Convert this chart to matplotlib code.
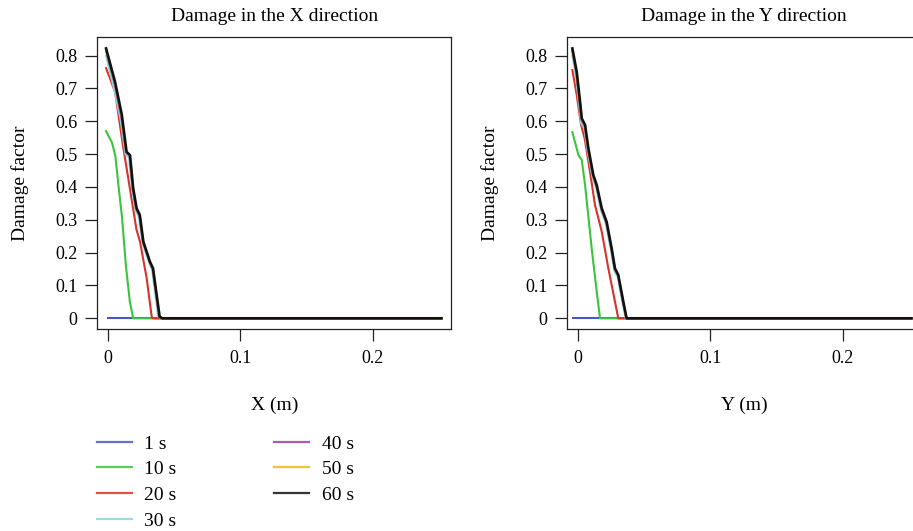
import matplotlib
matplotlib.use('Agg')
import matplotlib.pyplot as plt
from matplotlib.lines import Line2D

plt.rcParams['font.family'] = ['Liberation Serif', 'DejaVu Serif']
plt.rcParams['font.size'] = 14

labels = ['1 s', '10 s', '20 s', '30 s', '40 s', '50 s', '60 s']
colors = ['#4a56c6', '#3cc43c', '#d8322a', '#86d8e2', '#a43ca4', '#f2b81c', '#111111']
x_end = 0.252

# damage along X
x_dir_x = {
    '1 s': [0.0, x_end],
    '10 s': [-0.0015, 0.003, 0.0055, 0.008, 0.0105, 0.0135, 0.0165, 0.019, x_end],
    '20 s': [-0.0015, 0.0053, 0.0116, 0.0177, 0.0215, 0.0242, 0.0292, 0.033, 0.034, x_end],
    '30 s': [-0.0015, 0.0045, 0.0095, 0.0132, 0.0158, 0.0182, 0.0208, 0.0232, 0.026, 0.031, 0.0332, 0.038, 0.0405, x_end],
    '40 s': [-0.0015, 0.005, 0.01, 0.0137, 0.0163, 0.0187, 0.0213, 0.0237, 0.0265, 0.0315, 0.0337, 0.0386, 0.041, x_end],
    '50 s': [-0.0015, 0.0052, 0.0102, 0.0139, 0.0165, 0.0189, 0.0215, 0.0239, 0.0266, 0.0316, 0.0339, 0.0388, 0.041, x_end],
    '60 s': [-0.0015, 0.0053, 0.0104, 0.014, 0.0166, 0.019, 0.0216, 0.024, 0.0267, 0.0317, 0.034, 0.039, 0.041, x_end],
}
x_dir_y = {
    '1 s': [0.0, 0.0],
    '10 s': [0.57, 0.535, 0.495, 0.40, 0.31, 0.16, 0.05, 0.0, 0.0],
    '20 s': [0.762, 0.69, 0.518, 0.366, 0.27, 0.233, 0.122, 0.005, 0.0, 0.0],
    '30 s': [0.80, 0.70, 0.605, 0.50, 0.49, 0.39, 0.33, 0.31, 0.23, 0.17, 0.15, 0.005, 0.0, 0.0],
    '40 s': [0.815, 0.715, 0.615, 0.505, 0.495, 0.395, 0.333, 0.313, 0.232, 0.171, 0.151, 0.005, 0.0, 0.0],
    '50 s': [0.818, 0.718, 0.618, 0.506, 0.496, 0.396, 0.334, 0.314, 0.232, 0.172, 0.152, 0.005, 0.0, 0.0],
    '60 s': [0.822, 0.72, 0.62, 0.507, 0.497, 0.396, 0.335, 0.315, 0.233, 0.172, 0.152, 0.005, 0.0, 0.0],
}

# damage along Y
y_dir_x = {
    '1 s': [-0.004, x_end],
    '10 s': [-0.0043, 0.0003, 0.0028, 0.0053, 0.0103, 0.0141, 0.0166, x_end],
    '20 s': [-0.0043, -0.001, 0.0023, 0.005, 0.009, 0.0128, 0.0179, 0.0229, 0.0279, 0.0304, x_end],
    '30 s': [-0.0043, -0.0015, 0.001, 0.0023, 0.0048, 0.0073, 0.011, 0.0136, 0.0174, 0.0211, 0.0249, 0.0274, 0.0299, 0.0337, 0.036, x_end],
    '40 s': [-0.0043, -0.0012, 0.0013, 0.0026, 0.0051, 0.0076, 0.0113, 0.0139, 0.0177, 0.0214, 0.0252, 0.0277, 0.0302, 0.034, 0.0365, x_end],
    '50 s': [-0.0043, -0.0011, 0.0014, 0.0027, 0.0052, 0.0077, 0.0114, 0.014, 0.0178, 0.0215, 0.0253, 0.0278, 0.0303, 0.0341, 0.0366, x_end],
    '60 s': [-0.0043, -0.001, 0.0015, 0.0028, 0.0053, 0.0078, 0.0115, 0.0141, 0.0179, 0.0216, 0.0254, 0.0279, 0.0304, 0.0342, 0.0367, x_end],
}
y_dir_y = {
    '1 s': [0.0, 0.0],
    '10 s': [0.567, 0.497, 0.482, 0.406, 0.213, 0.081, 0.0, 0.0],
    '20 s': [0.756, 0.68, 0.589, 0.548, 0.447, 0.345, 0.264, 0.152, 0.051, 0.0, 0.0],
    '30 s': [0.80, 0.735, 0.645, 0.595, 0.578, 0.508, 0.428, 0.398, 0.328, 0.287, 0.206, 0.146, 0.126, 0.045, 0.0, 0.0],
    '40 s': [0.815, 0.745, 0.655, 0.605, 0.585, 0.514, 0.434, 0.403, 0.332, 0.291, 0.21, 0.15, 0.13, 0.049, 0.0, 0.0],
    '50 s': [0.818, 0.748, 0.658, 0.607, 0.587, 0.516, 0.435, 0.404, 0.333, 0.292, 0.211, 0.151, 0.131, 0.05, 0.0, 0.0],
    '60 s': [0.822, 0.751, 0.66, 0.609, 0.589, 0.518, 0.437, 0.406, 0.335, 0.294, 0.213, 0.152, 0.132, 0.051, 0.0, 0.0],
}

x_ticks = [0, 0.1, 0.2]
y_ticks = [0, 0.1, 0.2, 0.3, 0.4, 0.5, 0.6, 0.7, 0.8]


def style_axes(ax, title, xlabel):
    ax.set_xlim(-0.0081, 0.2593)
    ax.set_ylim(-0.0335, 0.856)
    ax.set_xticks(x_ticks)
    ax.set_xticklabels(['%g' % t for t in x_ticks])
    ax.set_yticks(y_ticks)
    ax.set_yticklabels(['%g' % t for t in y_ticks])
    ax.tick_params(direction='out', length=8.8, width=0.9, color='#222222', labelsize=13)
    ax.tick_params(axis='x', pad=6.0)
    ax.tick_params(axis='y', pad=5.5)
    for s in ax.spines.values():
        s.set_linewidth(0.9)
        s.set_color('#222222')
    ax.set_title(title, fontsize=14, pad=12)
    ax.set_xlabel(xlabel, fontsize=14)
    ax.set_ylabel('Damage factor', fontsize=14)
    ax.xaxis.set_label_coords(0.5, -0.232)
    ax.yaxis.set_label_coords(-0.192, 0.5)


fig = plt.figure(figsize=(9.13, 5.31), dpi=100)
ax1 = fig.add_axes([0.1066, 0.3798, 0.3875, 0.55])
ax2 = fig.add_axes([0.6214, 0.3798, 0.3875, 0.55])

for name, c in zip(labels, colors):
    lw = 1.9 if name == '60 s' else 1.5
    ax1.plot(x_dir_x[name], x_dir_y[name], color=c, lw=lw)
    ax2.plot(y_dir_x[name], y_dir_y[name], color=c, lw=lw)

style_axes(ax1, 'Damage in the X direction', 'X (m)')
style_axes(ax2, 'Damage in the Y direction', 'Y (m)')

handles = [Line2D([], [], color=c, lw=1.6, alpha=0.85) for c in colors]
fig.legend(handles, labels, loc='upper left', bbox_to_anchor=(0.106, 0.181),
           ncol=2, frameon=False, fontsize=14, handlelength=1.8,
           handletextpad=0.65, columnspacing=5.0, labelspacing=0.42,
           borderpad=0, borderaxespad=0)

fig.savefig('out.png', dpi=100)
